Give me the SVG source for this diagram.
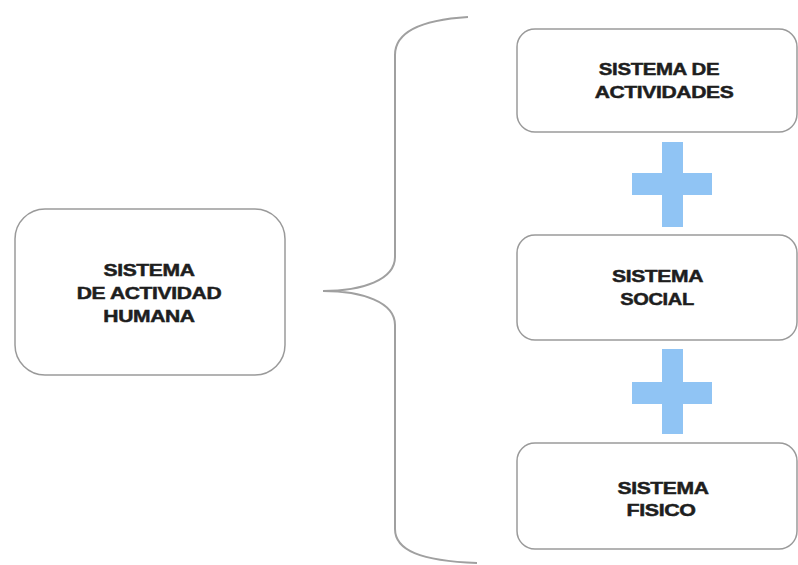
<svg xmlns="http://www.w3.org/2000/svg" width="798" height="565" viewBox="0 0 798 565">
  <style>
    .box { fill: #ffffff; stroke: #9a9a9a; stroke-width: 1.5; }
    .lbl { font-family: "Liberation Sans", Arial, sans-serif; font-weight: bold; font-size: 17px; fill: #1e1e1e; stroke: #1e1e1e; stroke-width: 0.5; text-anchor: middle; letter-spacing: -0.3px; }
    .brace { fill: none; stroke: #a0a0a0; stroke-width: 2; }
    .plus { fill: #90c4f4; }
  </style>
  <rect width="798" height="565" fill="#ffffff"/>

  <g id="node-actividad-humana">
    <rect class="box" x="15" y="209" width="270" height="166" rx="30" ry="30"/>
    <text class="lbl" transform="translate(149,275.5) scale(1.24,1)">SISTEMA</text>
    <text class="lbl" transform="translate(149,298.5) scale(1.24,1)">DE ACTIVIDAD</text>
    <text class="lbl" transform="translate(149,322) scale(1.24,1)">HUMANA</text>
  </g>

  <g id="connectors">
    <path class="brace" d="M468,17 C420,20 395,33 395,55 L395,257 C395,280 362,291 323,291 C362,291 395,302 395,325 L395,529 C395,550 420,561 477,563"/>
  </g>

  <g id="node-actividades">
    <rect class="box" x="517" y="29" width="280" height="103" rx="18" ry="18"/>
    <text class="lbl" transform="translate(659,75) scale(1.2,1)">SISTEMA DE</text>
    <text class="lbl" transform="translate(664,98) scale(1.24,1)">ACTIVIDADES</text>
  </g>

  <g id="plus-1">
    <rect class="plus" x="632" y="173" width="80" height="22"/>
    <rect class="plus" x="662" y="142" width="21" height="85"/>
  </g>

  <g id="node-social">
    <rect class="box" x="517" y="235" width="280" height="105" rx="18" ry="18"/>
    <text class="lbl" transform="translate(657.5,281.5) scale(1.24,1)">SISTEMA</text>
    <text class="lbl" transform="translate(657,305) scale(1.18,1)">SOCIAL</text>
  </g>

  <g id="plus-2">
    <rect class="plus" x="632" y="382" width="80" height="22"/>
    <rect class="plus" x="662" y="349" width="21" height="85"/>
  </g>

  <g id="node-fisico">
    <rect class="box" x="517" y="443" width="280" height="106" rx="18" ry="18"/>
    <text class="lbl" transform="translate(663,493.5) scale(1.24,1)">SISTEMA</text>
    <text class="lbl" transform="translate(661,516) scale(1.26,1)">FISICO</text>
  </g>
</svg>
